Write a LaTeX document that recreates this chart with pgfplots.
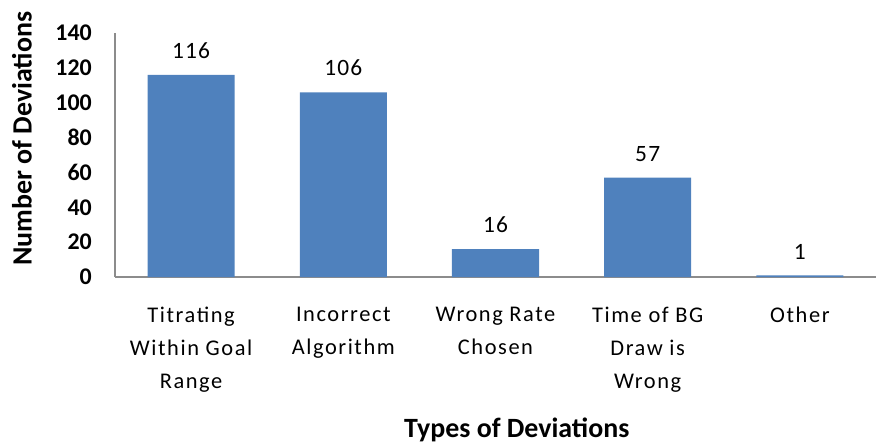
\documentclass[border=0pt]{standalone}
\usepackage{pgfplots}
\pgfplotsset{compat=1.18}
\usepackage{fontspec}
\setmainfont{Carlito}
\newfontfamily\catfont[LetterSpace=7]{Carlito}
\newfontfamily\numfont[LetterSpace=5]{Carlito}
\definecolor{barblue}{RGB}{79,129,189}
\definecolor{axgray}{RGB}{140,140,140}
\begin{document}
\begin{tikzpicture}
\begin{axis}[
  name=ax,
  scale only axis,
  width=761bp, height=244bp,
  xmin=-0.5, xmax=4.5, ymin=0, ymax=140,
  ytick={0,20,...,140},
  xtick={0,1,2,3,4},
  xticklabels={{Titrating\\Within Goal\\Range},{Incorrect\\Algorithm},{Wrong Rate\\Chosen},{Time of BG\\Draw is\\Wrong},{Other}},
  axis lines*=left,
  axis line style={axgray, line width=1.2bp},
  major tick length=0pt,
  /pgf/number format/assume math mode=true,
  yticklabel style={font=\bfseries\fontsize{24}{24}\selectfont, anchor=east, inner sep=0pt, xshift=-23bp},
  xticklabel style={font=\catfont\fontsize{22.5}{33}\selectfont, align=center, anchor=north, inner sep=0pt, yshift=-30bp},
  ylabel={Number of Deviations},
  ylabel style={font=\bfseries\fontsize{28}{28}\selectfont, at={(axis description cs:-0.1222,0.5676)}, anchor=center},
  xlabel={Types of Deviations},
  xlabel style={font=\bfseries\fontsize{28}{28}\selectfont, at={(axis description cs:0.528,-0.656)}, anchor=base},
  ybar, bar width=87bp,
  nodes near coords,
  every node near coord/.append style={font=\numfont\fontsize{23.5}{23.5}\selectfont, inner sep=0pt, anchor=south, yshift=16bp},
  clip=false,
]
\addplot[fill=barblue, draw=none] coordinates {(0,116) (1,106) (2,16) (3,57) (4,1)};
\end{axis}
\pgfresetboundingbox
\path[use as bounding box] ([shift={(-115bp,-166bp)}]ax.south west) rectangle ++(876bp,443bp);
\end{tikzpicture}
\end{document}
